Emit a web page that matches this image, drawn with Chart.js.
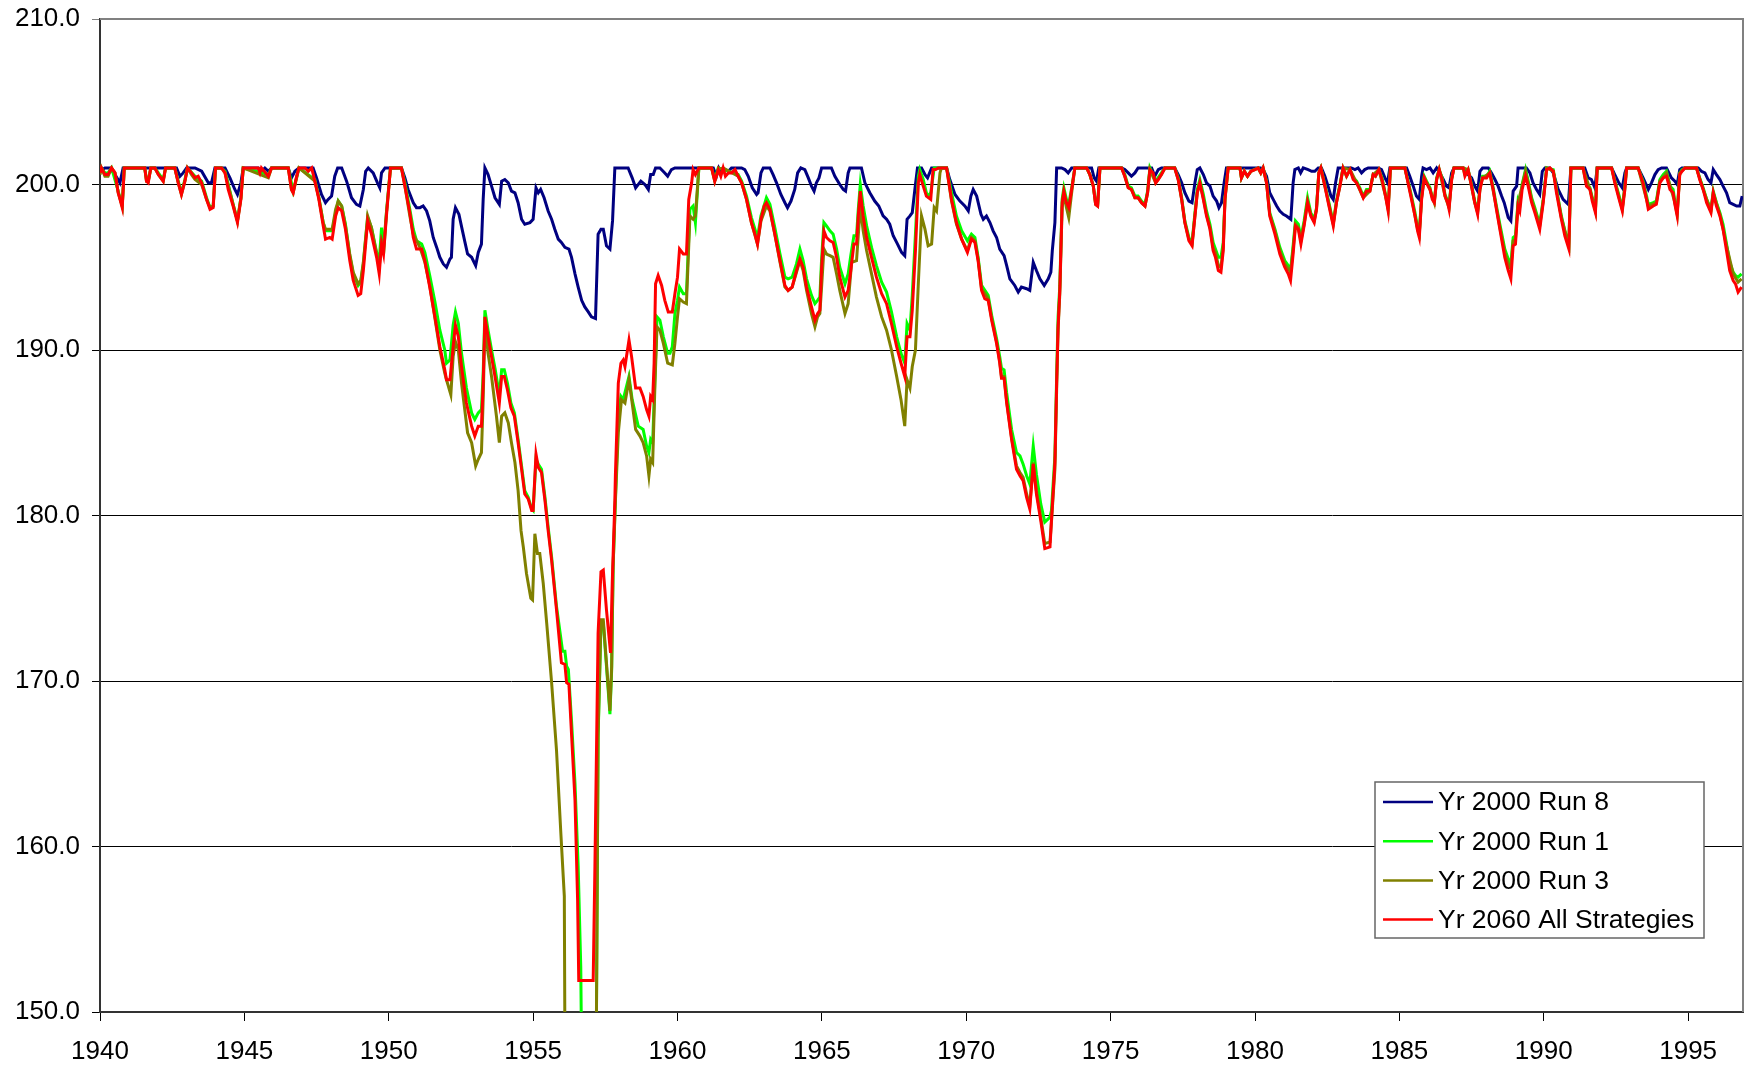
<!DOCTYPE html>
<html>
<head>
<meta charset="utf-8">
<script src="https://cdn.jsdelivr.net/npm/chart.js@4.4.1/dist/chart.umd.min.js"></script>
<style>
  html, body { margin: 0; padding: 0; background: #fff; }
</style>
</head>
<body>
<canvas id="chart" width="1744" height="1068"></canvas>
<script>
// series names, in legend order
const seriesLabels = ["Yr 2000 Run 8", "Yr 2000 Run 1", "Yr 2000 Run 3", "Yr 2060 All Strategies"];
const seriesColors = ["#000080", "#00ff00", "#808000", "#ff0000"];

// axis ticks
const yearTicks = [1940, 1945, 1950, 1955, 1960, 1965, 1970, 1975, 1980, 1985, 1990, 1995];
const valueTicks = [150, 160, 170, 180, 190, 200, 210];

// [year, value] pairs (values below 150 run off the axis)
const run8 = [
  [1940.00,200.8],[1940.17,201.0],[1940.34,201.0],[1940.52,200.6],[1940.69,200.1],[1940.80,201.0],
  [1942.65,201.0],[1942.77,200.5],[1942.88,200.7],[1943.00,201.0],[1943.29,201.0],[1943.52,200.8],[1943.75,200.1],[1943.86,200.1],[1943.98,201.0],
  [1944.33,201.0],[1944.50,200.4],[1944.67,199.7],[1944.76,199.4],[1944.88,200.1],[1944.96,201.0],
  [1945.48,201.0],[1945.59,200.8],[1945.71,201.0],[1945.83,200.8],[1945.94,201.0],[1946.52,201.0],[1946.63,200.4],[1946.75,200.8],[1946.89,201.0],
  [1947.38,201.0],[1947.50,200.4],[1947.67,199.4],[1947.81,198.9],[1947.90,199.1],[1948.02,199.3],[1948.13,200.5],[1948.23,201.0],[1948.37,201.0],
  [1948.54,200.2],[1948.71,199.2],[1948.88,198.8],[1949.00,198.7],[1949.12,199.7],[1949.20,200.8],[1949.29,201.0],[1949.46,200.7],[1949.61,200.1],
  [1949.69,199.8],[1949.75,200.7],[1949.87,201.0],
  [1950.44,201.0],[1950.56,200.4],[1950.67,199.7],[1950.85,198.9],[1950.96,198.6],[1951.08,198.6],[1951.19,198.7],[1951.31,198.4],[1951.42,197.8],
  [1951.54,196.8],[1951.66,196.2],[1951.77,195.6],[1951.89,195.2],[1952.00,195.0],[1952.12,195.5],[1952.17,195.6],[1952.23,197.9],[1952.31,198.6],
  [1952.43,198.2],[1952.54,197.3],[1952.64,196.5],[1952.73,195.8],[1952.87,195.6],[1953.01,195.1],[1953.10,195.9],[1953.21,196.4],[1953.27,199.1],
  [1953.33,201.0],[1953.44,200.6],[1953.56,199.9],[1953.68,199.2],[1953.83,198.8],[1953.91,200.2],[1954.02,200.3],[1954.14,200.1],[1954.25,199.6],
  [1954.37,199.5],[1954.48,198.9],[1954.60,197.9],[1954.71,197.6],[1954.89,197.7],[1955.00,197.9],[1955.10,199.8],[1955.18,199.5],[1955.26,199.7],
  [1955.38,199.2],[1955.52,198.4],[1955.64,197.9],[1955.75,197.3],[1955.87,196.7],[1955.98,196.5],[1956.10,196.2],[1956.24,196.1],[1956.33,195.6],
  [1956.45,194.6],[1956.56,193.8],[1956.68,193.0],[1956.79,192.6],[1956.91,192.3],[1957.02,192.0],[1957.16,191.9],[1957.25,197.0],[1957.35,197.3],
  [1957.43,197.3],[1957.54,196.3],[1957.66,196.1],[1957.75,197.8],[1957.83,201.0],[1958.29,201.0],[1958.43,200.4],[1958.55,199.8],[1958.73,200.2],
  [1958.87,200.0],[1958.99,199.7],[1959.07,200.6],[1959.16,200.6],[1959.24,201.0],[1959.39,201.0],[1959.56,200.7],[1959.66,200.5],[1959.79,200.9],
  [1959.91,201.0],
  [1961.24,201.0],[1961.35,200.5],[1961.43,201.0],[1961.52,200.7],[1961.64,200.9],[1961.76,200.8],[1961.87,201.0],[1962.22,201.0],[1962.33,200.9],
  [1962.45,200.5],[1962.59,199.8],[1962.74,199.4],[1962.79,199.5],[1962.89,200.7],[1962.97,201.0],[1963.20,201.0],[1963.31,200.6],[1963.43,200.1],
  [1963.58,199.4],[1963.72,198.9],[1963.81,198.6],[1963.93,199.0],[1964.06,199.7],[1964.16,200.7],[1964.27,201.0],[1964.41,200.9],[1964.53,200.4],
  [1964.64,199.9],[1964.73,199.6],[1964.81,200.1],[1964.90,200.4],[1964.99,201.0],[1965.33,201.0],[1965.45,200.5],[1965.62,200.0],[1965.74,199.7],
  [1965.82,199.6],[1965.91,200.7],[1965.97,201.0],[1966.37,201.0],[1966.49,200.1],[1966.66,199.5],[1966.83,199.0],[1966.97,198.7],[1967.12,198.1],
  [1967.24,197.9],[1967.35,197.6],[1967.47,196.9],[1967.62,196.4],[1967.76,195.9],[1967.87,195.7],[1967.95,197.9],[1968.05,198.1],[1968.13,198.3],
  [1968.22,199.7],[1968.31,201.0],[1968.45,201.0],[1968.57,200.6],[1968.66,200.4],[1968.80,201.0],[1969.32,201.0],[1969.43,200.3],[1969.61,199.4],
  [1969.78,199.0],[1969.95,198.7],[1970.07,198.4],[1970.16,199.3],[1970.24,199.7],[1970.36,199.3],[1970.51,198.2],[1970.59,197.9],[1970.70,198.1],
  [1970.82,197.7],[1970.93,197.2],[1971.05,196.8],[1971.16,196.1],[1971.31,195.7],[1971.40,195.1],[1971.51,194.3],[1971.68,193.9],[1971.80,193.5],
  [1971.91,193.8],[1972.09,193.7],[1972.20,193.6],[1972.32,195.3],[1972.43,194.8],[1972.55,194.3],[1972.70,193.9],[1972.84,194.3],[1972.93,194.7],
  [1972.98,196.0],[1973.07,197.7],[1973.13,201.0],[1973.30,201.0],[1973.42,200.9],[1973.53,200.7],[1973.65,201.0],[1974.34,201.0],[1974.43,200.4],
  [1974.51,200.2],[1974.59,201.0],[1975.38,201.0],[1975.49,200.9],[1975.61,200.7],[1975.72,200.5],[1975.84,200.7],[1975.95,201.0],[1976.42,201.0],
  [1976.53,200.5],[1976.65,200.9],[1976.76,201.0],[1977.22,201.0],[1977.34,200.6],[1977.46,200.1],[1977.57,199.5],[1977.71,199.0],[1977.82,198.9],
  [1977.92,200.1],[1978.00,200.9],[1978.09,201.0],[1978.21,200.6],[1978.32,200.1],[1978.44,199.9],[1978.55,199.3],[1978.67,199.0],[1978.75,198.6],
  [1978.84,198.9],[1978.93,200.1],[1979.01,201.0],
  [1980.20,201.0],[1980.28,200.9],[1980.40,200.5],[1980.51,199.5],[1980.63,199.1],[1980.75,198.7],[1980.86,198.4],[1980.98,198.2],[1981.09,198.1],
  [1981.24,197.9],[1981.32,200.1],[1981.38,200.9],[1981.50,201.0],[1981.58,200.7],[1981.67,201.0],[1981.84,200.9],[1981.96,200.8],[1982.07,200.8],
  [1982.19,201.0],[1982.30,201.0],[1982.42,200.5],[1982.53,199.9],[1982.63,199.3],[1982.71,199.1],[1982.79,200.1],[1982.88,201.0],[1983.34,201.0],
  [1983.46,200.9],[1983.57,201.0],[1983.69,200.7],[1983.80,200.9],[1983.92,201.0],[1984.27,201.0],[1984.38,200.9],[1984.50,200.4],[1984.59,200.1],
  [1984.67,201.0],[1985.25,201.0],[1985.36,200.5],[1985.48,199.9],[1985.59,199.3],[1985.69,199.1],[1985.77,200.5],[1985.82,201.0],[1985.94,200.9],
  [1986.06,201.0],[1986.17,200.7],[1986.29,201.0],[1986.40,200.7],[1986.52,200.3],[1986.63,199.9],[1986.72,199.8],[1986.81,200.7],[1986.89,201.0],
  [1987.21,201.0],[1987.29,200.9],[1987.38,200.6],[1987.50,200.4],[1987.61,199.9],[1987.71,199.6],[1987.79,200.8],[1987.88,201.0],[1988.08,201.0],
  [1988.19,200.7],[1988.31,200.3],[1988.42,199.9],[1988.54,199.3],[1988.63,198.9],[1988.77,198.0],[1988.86,197.8],[1988.94,199.6],[1989.06,199.9],
  [1989.11,201.0],[1989.40,201.0],[1989.52,200.7],[1989.63,200.1],[1989.75,199.7],[1989.86,199.4],[1989.95,200.8],[1990.04,201.0],[1990.21,201.0],
  [1990.33,200.7],[1990.50,199.7],[1990.67,199.1],[1990.85,198.8],[1990.94,201.0],[1991.42,201.0],[1991.54,200.4],[1991.65,200.3],[1991.77,199.8],
  [1991.85,201.0],[1992.35,201.0],[1992.46,200.6],[1992.60,200.1],[1992.72,199.8],[1992.81,200.7],[1992.87,201.0],[1993.27,201.0],[1993.44,200.4],
  [1993.62,199.7],[1993.73,200.1],[1993.85,200.6],[1993.96,200.9],[1994.08,201.0],[1994.25,201.0],[1994.42,200.4],[1994.54,200.2],[1994.62,200.0],
  [1994.71,200.9],[1994.79,201.0],[1995.35,201.0],[1995.46,200.8],[1995.58,200.7],[1995.69,200.3],[1995.79,200.1],[1995.87,200.9],[1995.98,200.6],
  [1996.10,200.3],[1996.21,199.9],[1996.33,199.5],[1996.44,198.9],[1996.56,198.8],[1996.68,198.7],[1996.79,198.7],[1996.87,199.3]
];

const run1 = [
  [1940.00,200.8],[1940.05,201.0],[1940.17,200.7],[1940.28,200.7],[1940.40,201.0],[1940.63,199.6],[1940.77,198.7],[1940.84,201.0],[1941.55,201.0],
  [1941.61,200.3],[1941.67,200.2],[1941.76,201.0],[1941.90,201.0],[1942.02,200.7],[1942.19,200.3],[1942.27,201.0],[1942.59,201.0],[1942.71,200.2],
  [1942.82,199.5],[1942.94,200.3],[1943.03,201.0],[1943.29,200.5],[1943.52,200.2],[1943.69,199.2],[1943.81,198.6],[1943.92,198.7],[1944.00,201.0],
  [1944.21,201.0],[1944.33,200.8],[1944.61,198.8],[1944.76,197.8],[1944.88,199.2],[1944.96,201.0],[1945.83,200.6],[1945.94,201.0],[1946.52,201.0],
  [1946.69,199.6],[1946.89,201.0],[1947.44,200.3],[1947.58,199.2],[1947.73,197.7],[1947.81,197.2],[1948.04,197.2],[1948.25,199.0],[1948.37,198.7],
  [1948.50,197.6],[1948.65,195.7],[1948.77,194.6],[1948.94,193.9],[1949.03,194.1],[1949.12,195.2],[1949.27,198.0],[1949.40,197.4],[1949.58,195.9],
  [1949.67,195.4],[1949.75,197.4],[1949.82,195.8],[1949.92,198.3],[1950.06,201.0],
  [1950.44,201.0],[1950.56,200.1],[1950.73,198.5],[1950.85,197.3],[1950.96,196.6],[1951.14,196.4],[1951.25,195.9],[1951.42,194.5],[1951.60,192.9],
  [1951.77,191.2],[1951.94,190.0],[1952.00,189.2],[1952.12,189.4],[1952.23,191.5],[1952.31,192.3],[1952.41,191.6],[1952.52,189.8],[1952.69,187.7],
  [1952.87,186.2],[1952.98,185.8],[1953.10,186.2],[1953.21,186.4],[1953.27,188.6],[1953.33,192.4],[1953.44,191.2],[1953.56,190.0],[1953.68,188.9],
  [1953.83,187.3],[1953.91,188.8],[1954.00,188.8],[1954.11,188.0],[1954.23,186.8],[1954.35,186.2],[1954.48,184.6],[1954.60,183.0],[1954.71,181.5],
  [1954.83,181.1],[1954.95,180.4],[1955.00,180.3],[1955.10,183.4],[1955.18,183.1],[1955.29,182.8],[1955.41,181.1],[1955.52,179.3],[1955.64,177.5],
  [1955.81,174.5],[1956.02,171.8],[1956.10,171.8],[1956.16,170.9],[1956.22,170.7],[1956.33,167.6],[1956.45,163.8],[1956.56,158.8],[1956.65,152.7],
  [1956.72,140.0],[1957.16,140.0],[1957.25,166.6],[1957.35,173.5],[1957.43,173.5],[1957.54,170.9],[1957.66,168.0],[1957.72,170.7],[1957.77,176.9],
  [1957.85,181.1],
  [1957.95,186.0],[1958.04,187.2],[1958.12,187.0],[1958.32,188.4],[1958.43,187.0],[1958.64,185.4],[1958.81,185.2],[1958.93,184.2],[1959.01,183.8],
  [1959.07,184.6],[1959.14,184.4],[1959.22,188.4],[1959.29,192.0],[1959.39,191.8],[1959.51,190.8],[1959.66,189.8],[1959.74,189.8],[1959.82,190.2],
  [1959.91,192.2],[1960.00,193.0],[1960.07,193.8],[1960.20,193.4],[1960.31,193.4],[1960.43,198.5],[1960.54,198.7],[1960.62,197.7],[1960.74,201.0],
  [1961.18,201.0],[1961.29,200.3],[1961.41,201.0],[1962.10,200.6],[1962.22,200.2],[1962.39,199.3],[1962.56,198.0],[1962.77,196.8],[1962.89,198.1],
  [1963.08,199.2],[1963.20,198.8],[1963.37,197.4],[1963.55,195.8],[1963.72,194.4],[1963.83,194.3],[1963.97,194.4],[1964.12,195.2],[1964.24,196.1],
  [1964.35,195.4],[1964.47,194.3],[1964.64,193.3],[1964.76,192.8],[1964.85,193.0],[1964.93,193.2],[1964.99,195.5],[1965.07,197.7],[1965.16,197.5],
  [1965.28,197.2],[1965.39,197.0],[1965.51,196.1],[1965.62,195.0],[1965.80,194.0],[1965.91,194.6],[1966.00,195.7],[1966.11,196.9],[1966.20,196.9],
  [1966.26,198.5],[1966.33,200.0],[1966.43,198.7],[1966.55,197.5],[1966.72,196.2],[1966.89,195.1],[1967.07,194.1],[1967.24,193.5],[1967.41,192.3],
  [1967.59,190.8],[1967.74,189.8],[1967.87,189.2],[1967.95,191.6],[1968.05,191.2],[1968.13,193.3],[1968.24,197.0],[1968.34,200.5],[1968.39,200.9],
  [1968.51,200.3],[1968.62,199.5],[1968.68,199.3],[1968.77,199.5],[1968.89,201.0],[1969.32,201.0],[1969.49,199.5],[1969.66,198.1],[1969.84,197.2],
  [1970.04,196.6],[1970.18,197.0],[1970.30,196.8],[1970.41,195.6],[1970.53,193.9],[1970.76,193.3],[1970.88,192.1],[1971.05,190.7],[1971.16,189.6],
  [1971.22,188.9],[1971.31,188.8],[1971.40,187.4],[1971.57,185.2],[1971.74,183.8],[1971.86,183.6],[1971.97,183.1],[1972.09,182.4],[1972.20,181.9],
  [1972.32,184.2],[1972.43,182.5],[1972.58,180.7],[1972.72,179.6],[1972.90,179.9],[1972.95,180.3],[1973.07,183.6],[1973.13,188.4],[1973.18,192.0],
  [1973.24,193.9],[1973.32,199.1],[1973.38,199.8],[1973.47,199.1],[1973.55,198.8],[1973.65,199.8],[1973.76,201.0],
  [1974.17,201.0],[1974.28,200.6],[1974.40,199.9],[1974.48,198.9],[1974.55,198.8],[1974.63,201.0],[1975.38,201.0],[1975.49,200.6],[1975.61,199.9],
  [1975.72,199.8],[1975.84,199.3],[1975.95,199.3],[1976.07,199.0],[1976.19,198.8],[1976.28,199.6],[1976.36,201.0],[1976.56,200.2],[1976.76,200.7],
  [1976.88,201.0],[1977.22,201.0],[1977.34,200.4],[1977.46,199.2],[1977.57,197.8],[1977.71,196.8],[1977.82,196.5],[1977.92,198.3],[1978.00,199.7],
  [1978.09,200.3],[1978.21,199.4],[1978.32,198.4],[1978.44,197.6],[1978.55,196.5],[1978.63,196.1],[1978.73,195.6],[1978.82,195.6],[1978.90,196.5],
  [1978.96,199.2],[1979.07,201.0],[1979.48,201.0],[1979.53,200.4],[1979.63,200.8],[1979.74,200.5],[1979.86,200.8],[1980.11,201.0],[1980.20,200.7],
  [1980.28,201.0],[1980.40,200.2],[1980.51,198.3],[1980.69,197.3],[1980.86,196.2],[1981.03,195.4],[1981.15,195.1],[1981.23,194.8],[1981.32,196.3],
  [1981.40,197.8],[1981.50,197.6],[1981.59,196.8],[1981.70,197.8],[1981.82,199.2],[1981.93,198.3],[1982.05,197.9],[1982.13,198.6],[1982.21,200.7],
  [1982.28,201.0],[1982.42,200.0],[1982.56,198.9],[1982.71,197.7],[1982.82,199.0],[1982.94,200.0],[1983.05,201.0],[1983.17,200.5],[1983.29,200.9],
  [1983.40,200.4],[1983.52,200.2],[1983.63,199.8],[1983.75,199.3],[1983.86,199.7],[1983.98,199.7],[1984.09,200.6],[1984.17,200.5],[1984.29,200.9],
  [1984.40,200.4],[1984.52,199.4],[1984.61,198.6],[1984.69,201.0],[1985.19,201.0],[1985.30,200.2],[1985.42,199.3],[1985.54,198.3],[1985.63,197.4],
  [1985.69,197.1],[1985.77,199.3],[1985.86,200.5],[1985.94,200.2],[1986.06,199.8],[1986.14,199.2],[1986.21,199.0],[1986.29,200.4],[1986.38,200.9],
  [1986.48,200.4],[1986.58,199.4],[1986.67,199.0],[1986.72,198.7],[1986.81,200.4],[1986.89,201.0],[1987.21,201.0],[1987.27,200.6],[1987.38,200.9],
  [1987.50,200.0],[1987.61,199.0],[1987.71,198.4],[1987.79,199.8],[1987.88,200.5],[1988.02,200.5],[1988.13,200.8],[1988.25,199.8],[1988.36,198.7],
  [1988.48,197.6],[1988.65,196.1],[1988.77,195.5],[1988.86,195.2],[1988.94,196.8],[1989.02,196.9],[1989.11,199.0],[1989.17,198.7],[1989.25,200.0],
  [1989.37,200.9],[1989.46,200.2],[1989.58,199.2],[1989.69,198.6],[1989.86,197.6],[1989.98,199.1],[1990.10,201.0],[1990.33,200.9],[1990.44,199.7],
  [1990.61,198.1],[1990.73,197.2],[1990.87,196.4],[1990.94,201.0],[1991.36,201.0],[1991.48,200.0],[1991.60,199.8],[1991.68,199.2],[1991.79,198.5],
  [1991.85,201.0],[1992.35,201.0],[1992.46,200.2],[1992.58,199.5],[1992.72,198.6],[1992.81,199.8],[1992.87,201.0],[1993.27,201.0],[1993.44,200.2],
  [1993.56,199.3],[1993.62,198.8],[1993.79,198.9],[1993.90,199.0],[1994.02,200.3],[1994.14,200.6],[1994.25,200.8],[1994.37,199.9],[1994.48,199.7],
  [1994.54,199.0],[1994.62,198.3],[1994.71,200.7],[1994.79,200.9],[1994.89,201.0],[1995.29,201.0],[1995.40,200.4],[1995.52,199.8],[1995.64,199.1],
  [1995.79,198.5],[1995.87,199.6],[1995.98,198.9],[1996.10,198.3],[1996.21,197.6],[1996.33,196.4],[1996.44,195.3],[1996.56,194.7],[1996.64,194.5],
  [1996.73,194.4],[1996.85,194.6]
];

const run3 = [
  [1940.00,200.6],[1940.05,201.0],[1940.17,200.5],[1940.28,200.5],[1940.40,201.0],[1940.52,200.7],[1940.63,199.5],[1940.77,198.7],[1940.84,201.0],
  [1941.55,201.0],[1941.61,200.2],[1941.67,200.2],[1941.76,201.0],[1941.90,201.0],[1942.02,200.6],[1942.19,200.2],[1942.27,201.0],[1942.59,201.0],
  [1942.71,200.1],[1942.82,199.4],[1942.94,200.2],[1943.03,201.0],[1943.17,200.6],[1943.29,200.3],[1943.52,200.0],[1943.69,199.1],[1943.81,198.6],
  [1943.92,198.7],[1944.00,201.0],[1944.21,201.0],[1944.33,200.7],[1944.61,198.8],[1944.76,197.8],[1944.88,199.2],[1944.96,201.0],[1945.83,200.4],
  [1945.94,201.0],[1946.52,201.0],[1946.63,199.7],[1946.69,199.5],[1946.89,201.0],[1947.44,200.2],[1947.58,199.2],[1947.73,197.7],[1947.81,197.3],
  [1948.04,197.3],[1948.16,198.5],[1948.25,199.0],[1948.37,198.7],[1948.50,197.5],[1948.65,195.8],[1948.77,194.7],[1948.94,194.0],[1949.03,194.2],
  [1949.12,195.3],[1949.27,198.1],[1949.40,197.4],[1949.58,195.8],[1949.67,195.0],[1949.75,196.6],[1949.82,196.2],[1949.92,198.3],[1950.06,201.0],
  [1950.44,201.0],[1950.56,199.9],[1950.73,198.1],[1950.85,197.0],[1951.08,196.2],[1951.25,195.3],[1951.42,193.9],[1951.60,191.9],[1951.77,190.0],
  [1951.94,188.6],[1952.00,188.2],[1952.15,187.3],[1952.23,189.6],[1952.31,190.5],[1952.41,190.0],[1952.52,188.0],[1952.73,185.0],[1952.87,184.4],
  [1953.01,183.0],[1953.10,183.4],[1953.21,183.8],[1953.27,187.0],[1953.33,191.6],[1953.44,189.8],[1953.56,188.4],[1953.73,186.0],[1953.83,184.4],
  [1953.91,186.0],[1954.02,186.2],[1954.14,185.6],[1954.25,184.4],[1954.37,183.2],[1954.48,181.5],[1954.58,179.1],[1954.66,178.1],[1954.77,176.5],
  [1954.92,175.0],[1954.98,174.9],[1955.06,178.9],[1955.15,177.7],[1955.23,177.7],[1955.35,175.9],[1955.47,173.5],[1955.64,169.9],[1955.81,165.8],
  [1955.96,160.8],[1956.08,157.0],[1956.12,140.0],[1957.16,140.0],[1957.25,166.8],[1957.35,173.7],[1957.43,173.7],[1957.54,171.1],[1957.66,168.2],
  [1957.72,170.9],[1957.77,176.9],[1957.85,180.9],[1957.95,185.0],[1958.06,187.0],[1958.18,186.8],[1958.32,188.2],[1958.43,186.8],[1958.55,185.2],
  [1958.70,184.8],[1958.81,184.4],[1958.93,183.6],[1959.01,182.4],[1959.07,183.4],[1959.14,183.2],[1959.22,188.0],[1959.29,191.4],[1959.39,191.2],
  [1959.51,190.4],[1959.66,189.2],[1959.82,189.1],[1959.91,190.4],[1960.00,192.0],[1960.07,193.1],[1960.20,192.9],[1960.31,192.8],[1960.43,198.1],
  [1960.54,197.9],[1960.62,198.1],[1960.74,201.0],
  [1961.18,201.0],[1961.29,200.2],[1961.41,200.9],[1961.58,201.0],[1962.10,200.5],[1962.22,200.1],[1962.39,199.1],[1962.56,197.7],[1962.77,196.4],
  [1962.89,197.8],[1963.08,198.7],[1963.20,198.4],[1963.37,197.0],[1963.55,195.3],[1963.72,193.8],[1963.83,193.6],[1963.97,193.8],[1964.12,194.7],
  [1964.24,195.4],[1964.35,194.8],[1964.47,193.6],[1964.64,192.2],[1964.76,191.4],[1964.85,192.0],[1964.93,192.2],[1964.99,193.8],[1965.07,196.1],
  [1965.16,195.8],[1965.28,195.7],[1965.39,195.6],[1965.51,194.6],[1965.62,193.6],[1965.80,192.2],[1965.91,192.8],[1966.03,195.3],[1966.20,195.4],
  [1966.26,196.9],[1966.33,198.7],[1966.43,197.2],[1966.55,196.0],[1966.72,194.6],[1966.89,193.2],[1967.07,192.0],[1967.24,191.2],[1967.41,190.0],
  [1967.59,188.4],[1967.74,187.0],[1967.87,185.4],[1967.95,188.2],[1968.05,187.7],[1968.13,189.0],[1968.24,190.0],[1968.34,194.0],[1968.45,198.1],
  [1968.57,197.3],[1968.68,196.3],[1968.80,196.4],[1968.89,198.6],[1968.97,198.4],[1969.09,200.7],[1969.14,201.0],[1969.32,201.0],[1969.49,199.0],
  [1969.66,197.6],[1969.84,196.7],[1970.04,196.0],[1970.18,196.8],[1970.30,196.6],[1970.41,195.5],[1970.53,193.7],[1970.76,193.1],[1970.88,191.9],
  [1971.05,190.5],[1971.16,189.3],[1971.22,188.4],[1971.31,188.4],[1971.40,186.9],[1971.57,184.7],[1971.74,183.0],[1971.86,182.6],[1971.97,182.3],
  [1972.09,181.3],[1972.20,180.6],[1972.32,183.2],[1972.43,181.5],[1972.58,179.9],[1972.72,178.3],[1972.90,178.4],[1972.95,179.6],[1973.07,182.8],
  [1973.13,187.6],[1973.18,191.2],[1973.24,193.4],[1973.32,198.6],[1973.38,199.4],[1973.47,198.6],[1973.55,198.0],[1973.65,199.5],[1973.76,201.0],
  [1974.17,201.0],[1974.28,200.6],[1974.40,199.9],[1974.48,198.8],[1974.55,198.7],[1974.63,201.0],[1975.38,201.0],[1975.49,200.5],[1975.61,199.8],
  [1975.72,199.7],[1975.84,199.2],[1975.95,199.2],[1976.07,198.9],[1976.19,198.7],[1976.28,199.5],[1976.36,200.9],[1976.56,200.1],[1976.76,200.6],
  [1976.88,201.0],[1977.22,201.0],[1977.34,200.3],[1977.46,199.1],[1977.57,197.7],[1977.71,196.7],[1977.82,196.4],[1977.92,198.1],[1978.00,199.5],
  [1978.09,200.1],[1978.21,199.2],[1978.32,198.2],[1978.44,197.4],[1978.55,196.2],[1978.63,195.9],[1978.73,195.1],[1978.82,195.0],[1978.90,196.2],
  [1978.96,199.1],[1979.07,201.0],[1979.48,201.0],[1979.53,200.4],[1979.63,200.8],[1979.74,200.5],[1979.86,200.8],[1980.11,201.0],[1980.20,200.7],
  [1980.28,201.0],[1980.40,200.1],[1980.51,198.2],[1980.69,197.2],[1980.86,196.0],[1981.03,195.2],[1981.15,194.9],[1981.23,194.7],[1981.32,196.1],
  [1981.40,197.6],[1981.50,197.4],[1981.59,196.6],[1981.70,197.6],[1981.82,199.0],[1981.93,198.2],[1982.05,197.8],[1982.13,198.5],[1982.21,200.7],
  [1982.28,201.0],[1982.42,199.9],[1982.56,198.8],[1982.71,197.6],[1982.82,198.9],[1982.94,199.9],[1983.05,201.0],[1983.29,200.9],[1983.52,200.1],
  [1983.75,199.2],[1983.98,199.6],[1984.09,200.6],[1984.29,200.9],[1984.52,199.3],[1984.61,198.5],[1984.69,201.0],[1985.19,201.0],[1985.42,199.2],
  [1985.63,197.3],[1985.69,197.0],[1985.77,199.2],[1985.86,200.4],[1986.06,199.7],[1986.21,198.9],[1986.29,200.3],[1986.38,200.9],[1986.58,199.3],
  [1986.72,198.6],[1986.81,200.3],[1986.89,201.0],[1987.21,201.0],[1987.38,200.9],[1987.61,198.9],[1987.71,198.3],[1987.79,199.7],[1987.88,200.4],
  [1988.13,200.7],[1988.36,198.6],[1988.48,197.4],[1988.65,195.9],[1988.77,195.2],[1988.86,194.9],[1988.94,196.6],[1989.02,196.7],[1989.11,198.9],
  [1989.25,199.9],[1989.37,200.8],[1989.58,199.1],[1989.86,197.5],[1989.98,199.0],[1990.10,201.0],[1990.33,200.8],[1990.61,198.0],[1990.87,196.3],
  [1990.94,201.0],[1991.36,201.0],[1991.60,199.7],[1991.79,198.4],[1991.85,201.0],[1992.35,201.0],[1992.58,199.4],[1992.72,198.5],[1992.87,201.0],
  [1993.27,201.0],[1993.62,198.7],[1993.90,198.9],[1994.02,200.2],[1994.25,200.7],[1994.54,198.9],[1994.62,198.2],[1994.71,200.7],[1994.89,201.0],
  [1995.29,201.0],[1995.52,199.7],[1995.79,198.4],[1995.87,199.5],[1996.10,198.2],[1996.33,196.3],[1996.56,194.6],[1996.73,194.1],[1996.85,194.3]
];

const yr2060 = [
  [1940.00,200.7],[1940.05,201.0],[1940.17,200.6],[1940.28,200.6],[1940.40,201.0],[1940.52,200.7],[1940.63,199.5],[1940.77,198.6],[1940.84,201.0],
  [1941.55,201.0],[1941.61,200.2],[1941.67,200.1],[1941.76,201.0],[1941.90,201.0],[1942.02,200.6],[1942.19,200.2],[1942.27,201.0],[1942.59,201.0],
  [1942.71,200.1],[1942.82,199.4],[1942.94,200.2],[1943.03,201.0],[1943.17,200.7],[1943.29,200.4],[1943.40,200.5],[1943.52,200.1],[1943.69,199.1],
  [1943.81,198.5],[1943.92,198.6],[1944.00,201.0],[1944.21,201.0],[1944.33,200.7],[1944.44,199.7],[1944.61,198.7],[1944.76,197.7],[1944.88,199.1],
  [1944.96,201.0],[1945.48,201.0],[1945.54,200.7],[1945.59,201.0],[1945.83,200.5],[1945.94,201.0],[1946.52,201.0],[1946.63,199.7],[1946.69,199.5],
  [1946.81,200.5],[1946.89,201.0],[1947.10,201.0],[1947.21,200.8],[1947.33,201.0],[1947.44,200.2],[1947.58,199.1],[1947.73,197.5],[1947.81,196.7],
  [1947.96,196.8],[1948.04,196.7],[1948.16,198.1],[1948.25,198.6],[1948.37,198.4],[1948.50,197.3],[1948.65,195.4],[1948.77,194.2],[1948.94,193.3],
  [1949.03,193.4],[1949.12,194.8],[1949.27,197.8],[1949.40,197.0],[1949.58,195.6],[1949.67,194.6],[1949.75,196.4],[1949.82,195.8],[1949.92,198.1],
  [1950.06,201.0],
  [1950.44,201.0],[1950.56,199.9],[1950.73,198.3],[1950.85,196.8],[1950.96,196.1],[1951.14,196.1],[1951.25,195.4],[1951.42,193.8],[1951.60,192.0],
  [1951.77,190.2],[1951.94,188.8],[1952.00,188.2],[1952.12,188.2],[1952.23,190.2],[1952.31,191.5],[1952.41,190.8],[1952.52,189.0],[1952.69,186.8],
  [1952.87,185.4],[1952.98,184.8],[1953.10,185.4],[1953.21,185.4],[1953.27,188.0],[1953.33,192.0],[1953.44,190.8],[1953.56,189.6],[1953.68,188.4],
  [1953.83,186.8],[1953.91,188.4],[1954.00,188.4],[1954.11,187.6],[1954.23,186.5],[1954.35,186.0],[1954.48,184.4],[1954.60,182.8],[1954.71,181.3],
  [1954.83,181.0],[1954.95,180.3],[1955.00,180.3],[1955.10,183.7],[1955.18,182.9],[1955.29,182.6],[1955.41,180.9],[1955.52,179.1],[1955.64,177.3],
  [1955.81,174.3],[1955.98,171.1],[1956.10,171.0],[1956.16,169.9],[1956.24,169.8],[1956.33,166.8],[1956.45,162.8],[1956.54,156.8],[1956.58,151.9],
  [1957.08,151.9],[1957.14,158.8],[1957.25,172.9],[1957.35,176.6],[1957.43,176.7],[1957.54,174.3],[1957.68,171.7],[1957.74,175.9],[1957.83,180.9],
  [1957.85,182.5],[1957.95,188.0],[1958.04,189.2],[1958.12,189.4],[1958.18,189.0],[1958.32,190.6],[1958.41,189.6],[1958.55,187.7],[1958.70,187.7],
  [1958.81,187.2],[1958.93,186.4],[1959.01,186.0],[1959.07,187.2],[1959.14,187.0],[1959.19,189.2],[1959.24,194.0],[1959.33,194.5],[1959.45,193.9],
  [1959.56,193.0],[1959.68,192.3],[1959.82,192.3],[1959.91,193.4],[1960.00,194.4],[1960.07,196.1],[1960.20,195.8],[1960.31,195.8],[1960.39,199.1],
  [1960.49,200.1],[1960.54,200.9],[1960.62,200.6],[1960.74,201.0],
  [1961.18,201.0],[1961.29,200.2],[1961.41,200.9],[1961.50,200.5],[1961.58,201.0],[1961.66,200.5],[1961.76,200.7],[1961.87,200.7],[1961.99,200.9],
  [1962.10,200.5],[1962.22,200.1],[1962.39,199.1],[1962.56,197.7],[1962.68,197.0],[1962.77,196.4],[1962.89,197.9],[1963.00,198.7],[1963.08,198.9],
  [1963.20,198.5],[1963.37,197.0],[1963.55,195.4],[1963.72,193.9],[1963.83,193.6],[1963.97,193.8],[1964.12,194.8],[1964.24,195.5],[1964.35,195.0],
  [1964.47,193.8],[1964.64,192.6],[1964.76,191.8],[1964.85,192.2],[1964.93,192.4],[1964.99,195.0],[1965.07,197.2],[1965.16,196.8],[1965.28,196.6],
  [1965.39,196.5],[1965.51,195.6],[1965.62,194.4],[1965.80,193.2],[1965.91,193.6],[1966.00,194.8],[1966.11,196.4],[1966.20,196.4],[1966.26,198.1],
  [1966.33,199.6],[1966.43,198.1],[1966.55,196.8],[1966.72,195.6],[1966.89,194.4],[1967.07,193.4],[1967.24,192.8],[1967.41,191.6],[1967.59,190.2],
  [1967.74,189.2],[1967.87,188.4],[1967.95,190.8],[1968.05,190.8],[1968.13,192.4],[1968.24,196.0],[1968.34,200.1],[1968.39,200.6],[1968.51,199.9],
  [1968.62,199.3],[1968.77,199.1],[1968.85,200.9],[1968.94,200.9],[1969.03,201.0],[1969.32,201.0],[1969.49,199.1],[1969.66,197.7],[1969.84,196.7],
  [1970.04,195.9],[1970.18,196.7],[1970.30,196.5],[1970.41,195.4],[1970.53,193.6],[1970.64,193.1],[1970.76,193.0],[1970.88,191.8],[1971.05,190.4],
  [1971.16,189.2],[1971.22,188.3],[1971.31,188.3],[1971.40,186.8],[1971.57,184.6],[1971.74,182.8],[1971.86,182.4],[1971.97,182.1],[1972.09,181.1],
  [1972.20,180.4],[1972.32,183.1],[1972.43,181.3],[1972.58,179.7],[1972.72,178.0],[1972.90,178.1],[1972.95,179.7],[1973.07,183.2],[1973.13,188.0],
  [1973.18,191.4],[1973.24,193.6],[1973.32,198.9],[1973.38,199.6],[1973.47,198.9],[1973.55,198.6],[1973.65,199.7],[1973.76,201.0],
  [1974.17,201.0],[1974.28,200.6],[1974.40,199.9],[1974.48,198.8],[1974.55,198.7],[1974.63,201.0],[1975.38,201.0],[1975.49,200.5],[1975.61,199.8],
  [1975.72,199.7],[1975.84,199.2],[1975.95,199.2],[1976.07,198.9],[1976.19,198.7],[1976.28,199.5],[1976.36,200.9],[1976.47,200.7],[1976.56,200.1],
  [1976.65,200.3],[1976.76,200.6],[1976.88,201.0],[1977.22,201.0],[1977.34,200.3],[1977.46,199.1],[1977.57,197.7],[1977.71,196.6],[1977.82,196.3],
  [1977.92,198.1],[1978.00,199.5],[1978.09,200.1],[1978.21,199.1],[1978.32,198.1],[1978.44,197.3],[1978.55,196.0],[1978.63,195.6],[1978.73,194.8],
  [1978.82,194.7],[1978.90,196.0],[1978.96,199.1],[1979.07,201.0],[1979.48,201.0],[1979.53,200.4],[1979.63,200.8],[1979.74,200.5],[1979.86,200.8],
  [1980.00,200.9],[1980.11,201.0],[1980.20,200.7],[1980.28,201.0],
  [1980.40,200.1],[1980.51,198.1],[1980.69,197.0],[1980.86,195.8],[1981.03,195.0],[1981.15,194.6],[1981.23,194.2],[1981.32,195.8],[1981.40,197.5],
  [1981.50,197.3],[1981.59,196.4],[1981.70,197.5],[1981.82,198.9],[1981.93,198.1],[1982.05,197.7],[1982.13,198.5],[1982.21,200.7],[1982.28,201.0],
  [1982.42,199.9],[1982.56,198.7],[1982.71,197.5],[1982.82,198.9],[1982.94,199.9],[1983.05,201.0],[1983.17,200.5],[1983.29,200.9],[1983.40,200.3],
  [1983.52,200.1],[1983.63,199.7],[1983.75,199.2],[1983.86,199.6],[1983.98,199.6],[1984.09,200.6],[1984.17,200.5],[1984.29,200.9],[1984.40,200.3],
  [1984.52,199.3],[1984.61,198.4],[1984.69,201.0],[1985.19,201.0],[1985.30,200.1],[1985.42,199.1],[1985.54,198.1],[1985.63,197.2],[1985.69,196.8],
  [1985.77,199.1],[1985.86,200.4],[1985.94,200.1],[1986.06,199.7],[1986.14,199.1],[1986.21,198.9],[1986.29,200.3],[1986.38,200.9],[1986.48,200.3],
  [1986.58,199.3],[1986.67,198.9],[1986.72,198.5],[1986.81,200.3],[1986.89,201.0],[1987.21,201.0],[1987.27,200.5],[1987.38,200.9],[1987.50,199.9],
  [1987.61,198.9],[1987.71,198.2],[1987.79,199.7],[1987.88,200.4],[1988.02,200.4],[1988.13,200.7],[1988.25,199.7],[1988.36,198.5],[1988.48,197.3],
  [1988.65,195.6],[1988.77,194.8],[1988.86,194.3],[1988.94,196.3],[1989.02,196.4],[1989.11,198.7],[1989.17,198.4],[1989.25,199.7],[1989.37,200.5],
  [1989.46,199.9],[1989.58,198.9],[1989.69,198.3],[1989.86,197.3],[1989.98,198.9],[1990.10,200.9],[1990.21,201.0],[1990.33,200.8],[1990.44,199.5],
  [1990.61,197.9],[1990.73,196.9],[1990.87,196.1],[1990.94,201.0],[1991.36,201.0],[1991.48,199.9],[1991.60,199.7],[1991.68,199.0],[1991.79,198.3],
  [1991.85,201.0],[1992.35,201.0],[1992.46,200.1],[1992.58,199.3],[1992.72,198.4],[1992.81,199.7],[1992.87,201.0],[1993.27,201.0],[1993.44,200.1],
  [1993.56,199.1],[1993.62,198.5],[1993.79,198.7],[1993.90,198.8],[1994.02,200.1],[1994.14,200.4],[1994.25,200.5],[1994.37,199.7],[1994.48,199.5],
  [1994.54,198.8],[1994.62,198.1],[1994.71,200.6],[1994.79,200.8],[1994.89,201.0],[1995.29,201.0],[1995.40,200.3],[1995.52,199.7],[1995.64,198.9],
  [1995.79,198.3],[1995.87,199.5],[1995.98,198.7],[1996.10,198.1],[1996.21,197.3],[1996.33,196.0],[1996.44,194.8],[1996.56,194.2],[1996.64,194.0],
  [1996.73,193.5],[1996.85,193.8]
];

const seriesData = [run8, run1, run3, yr2060];

function toPoints(pairs) {
    return pairs.map(p => ({ x: p[0], y: p[1] }));
}

const FONT = "'Liberation Sans', Arial, sans-serif";

// Excel-style plot frame: grey top and right edges
const plotFrame = {
    id: "plotFrame",
    beforeDatasetsDraw(chart) {
        const a = chart.chartArea;
        const ctx = chart.ctx;
        ctx.save();
        ctx.strokeStyle = "#808080";
        ctx.lineWidth = 2;
        ctx.beginPath();
        ctx.moveTo(a.left, a.top);
        ctx.lineTo(a.right, a.top);
        ctx.lineTo(a.right, a.bottom);
        ctx.stroke();
        ctx.restore();
    }
};

// legend box sitting inside the plot, lower right
const boxLegend = {
    id: "boxLegend",
    afterDraw(chart) {
        const a = chart.chartArea;
        const ctx = chart.ctx;
        const w = 329, h = 156;
        const x = a.right - 368;
        const y = a.top + 763;
        ctx.save();
        ctx.fillStyle = "#fff";
        ctx.fillRect(x, y, w, h);
        ctx.strokeStyle = "#666";
        ctx.lineWidth = 1.5;
        ctx.strokeRect(x, y, w, h);
        ctx.font = "26.5px " + FONT;
        ctx.textBaseline = "middle";
        ctx.textAlign = "left";
        chart.data.datasets.forEach((ds, i) => {
            const cy = y + 20 + i * 39.2;
            ctx.strokeStyle = ds.borderColor;
            ctx.lineWidth = 2.5;
            ctx.beginPath();
            ctx.moveTo(x + 8, cy);
            ctx.lineTo(x + 58, cy);
            ctx.stroke();
            ctx.fillStyle = "#000";
            ctx.fillText(ds.label, x + 63, cy + 1);
        });
        ctx.restore();
    }
};

new Chart(document.getElementById("chart"), {
    type: "line",
    data: {
        datasets: seriesLabels.map((label, i) => ({
            label: label,
            data: toPoints(seriesData[i]),
            borderColor: seriesColors[i],
            backgroundColor: seriesColors[i],
            borderWidth: 3,
            pointRadius: 0,
            tension: 0,
            fill: false,
            clip: 0,
            order: seriesLabels.length - i
        }))
    },
    options: {
        responsive: false,
        animation: false,
        devicePixelRatio: 1,
        layout: { padding: { top: 19, right: 1, left: 0, bottom: 0 } },
        plugins: {
            legend: { display: false },
            tooltip: { enabled: false }
        },
        scales: {
            x: {
                type: "linear",
                min: 1940,
                max: 1996.9,
                afterFit: s => { s.height = 56; s.paddingLeft = 0; s.paddingRight = 0; },
                afterBuildTicks: s => { s.ticks = yearTicks.map(v => ({ value: v })); },
                ticks: {
                    includeBounds: false,
                    autoSkip: false,
                    maxRotation: 0,
                    color: "#000",
                    padding: 15,
                    font: { family: FONT, size: 26 },
                    callback: v => String(v)
                },
                grid: { drawOnChartArea: false, tickLength: 9, color: "#000", lineWidth: 1 },
                border: { color: "#333", width: 2 }
            },
            y: {
                min: 150,
                max: 210,
                afterFit: s => { s.width = 100; s.paddingTop = 0; s.paddingBottom = 0; },
                afterBuildTicks: s => { s.ticks = valueTicks.map(v => ({ value: v })); },
                ticks: {
                    color: "#000",
                    padding: 12,
                    font: { family: FONT, size: 26 },
                    callback: v => v.toFixed(1)
                },
                grid: {
                    color: c => (c.tick && c.tick.value === 210 ? "#808080" : "#000"),
                    lineWidth: 1,
                    tickLength: 8
                },
                border: { color: "#333", width: 2 }
            }
        }
    },
    plugins: [plotFrame, boxLegend]
});
</script>
</body>
</html>
